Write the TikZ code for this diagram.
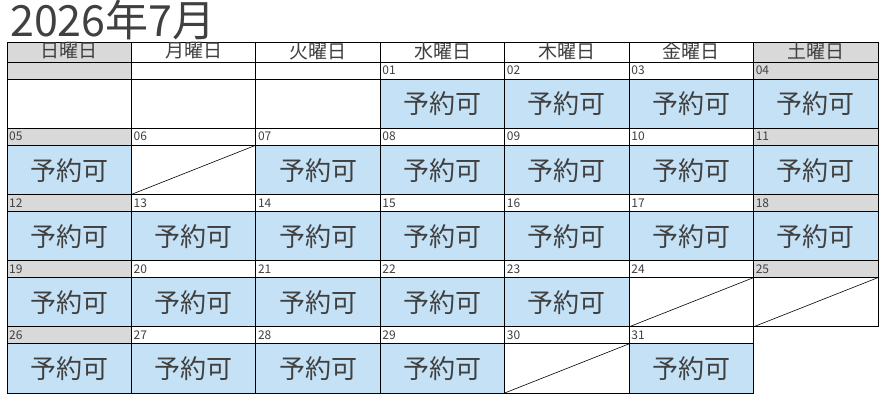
\documentclass[tikz,border=0pt]{standalone}
\usepackage{fontspec}
\newfontfamily\jpfont{Noto Sans CJK JP}
\usepackage{tikz}
\usetikzlibrary{positioning,calc}
\definecolor{txtgray}{HTML}{404040}
\definecolor{okblue}{HTML}{C5E1F5}
\definecolor{wkgray}{HTML}{D9D9D9}
\tikzset{
  cellline/.style={draw=black, line width=0.8pt},
  daynum/.style={anchor=west, font=\jpfont\fontsize{12}{12}\selectfont, text=txtgray, inner sep=1pt},
  okbox/.style={font=\jpfont\fontsize{26}{26}\selectfont, text=txtgray},
  headtxt/.style={font=\jpfont\fontsize{19}{19}\selectfont, text=txtgray},
}
\begin{document}
\begin{tikzpicture}[x=1pt, y=-1pt]
  \useasboundingbox (0,0) rectangle (884,401);
  \def\cw{124.43}
  \def\rh{66.2}
  % title
  \node[anchor=base west, font=\jpfont\fontsize{43}{43}\selectfont, text=txtgray, inner sep=0pt] (title) at (10,37) {2026年7月};
  % header row
  \foreach \name [count=\i from 0] in {日,月,火,水,木,金,土} {
    \ifnum\i=0 \def\fc{wkgray}\else\ifnum\i=6 \def\fc{wkgray}\else\def\fc{white}\fi\fi
    \draw[cellline, fill=\fc] (7+\i*\cw,42) rectangle (7+\i*\cw+\cw,62);
    \node[headtxt] (h\i) at (7+\i*\cw+0.5*\cw,51) {\name 曜日};
  }
  % leading empty cells
  \foreach \i in {0,1,2} {
    \ifnum\i=0 \def\fc{wkgray}\else\def\fc{white}\fi
    \draw[cellline, fill=\fc] (7+\i*\cw,62) rectangle (7+\i*\cw+\cw,79);
    \draw[cellline] (7+\i*\cw,79) rectangle (7+\i*\cw+\cw,62+\rh);
  }
  % days
  \foreach \d in {1,...,31} {
    \pgfmathtruncatemacro\c{mod(\d+2,7)}
    \pgfmathtruncatemacro\w{floor((\d+2)/7)}
    \pgfmathsetmacro\xl{7+\c*\cw}
    \pgfmathsetmacro\yt{62+\w*\rh}
    \ifnum\c=0 \def\fc{wkgray}\else\ifnum\c=6 \def\fc{wkgray}\else\def\fc{white}\fi\fi
    \draw[cellline, fill=\fc] (\xl,\yt) rectangle (\xl+\cw,\yt+17);
    \pgfmathtruncatemacro\closed{(\d==6)||(\d==24)||(\d==25)||(\d==30)}
    \ifnum\closed=1
      \draw[cellline] (\xl,\yt+17) rectangle (\xl+\cw,\yt+\rh);
      \draw[black, line width=0.6pt] (\xl,\yt+\rh) -- (\xl+\cw,\yt+17);
    \else
      \draw[cellline, fill=okblue] (\xl,\yt+17) rectangle (\xl+\cw,\yt+\rh);
      \node[okbox] (ok\d) at (\xl+0.5*\cw,\yt+17+0.5*\rh-8) {予約可};
    \fi
    \pgfmathtruncatemacro\dd{\d}
    \node[daynum] (n\d) at (\xl+1,\yt+8.5) {\ifnum\dd<10 0\fi\dd};
  }
\end{tikzpicture}
\end{document}
